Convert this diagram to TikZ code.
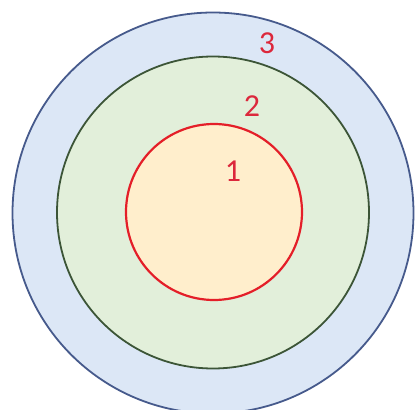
\documentclass[tikz,border=0pt]{standalone}
\usepackage{fontspec}
\setmainfont{Carlito}
\definecolor{outerfill}{RGB}{220,231,246}
\definecolor{outerline}{RGB}{70,90,140}
\definecolor{midfill}{RGB}{226,239,218}
\definecolor{midline}{RGB}{60,85,55}
\definecolor{innerfill}{RGB}{255,238,204}
\definecolor{innerline}{RGB}{228,30,40}
\definecolor{labelred}{RGB}{220,40,60}
\begin{document}
\begin{tikzpicture}[x=1pt,y=-1pt,
  ring/.style={circle,inner sep=0pt,line width=1.8pt},
  lab/.style={text=labelred,font=\fontsize{32}{32}\selectfont,inner sep=0pt}]
\useasboundingbox (0,0) rectangle (416,410);
\fill[white] (0,0) rectangle (416,410);
\node[ring,draw=outerline,fill=outerfill,minimum size=401pt] (outer) at (213,213) {};
\node[ring,draw=midline,fill=midfill,minimum size=312pt] (middle) at (213,212.5) {};
\node[ring,draw=innerline,fill=innerfill,line width=2.2pt,minimum size=176pt] (inner) at (214,212) {};
\node[lab] (l3) at (267,43) {3};
\node[lab] (l2) at (252,106) {2};
\node[lab] (l1) at (233,171) {1};
\end{tikzpicture}
\end{document}
